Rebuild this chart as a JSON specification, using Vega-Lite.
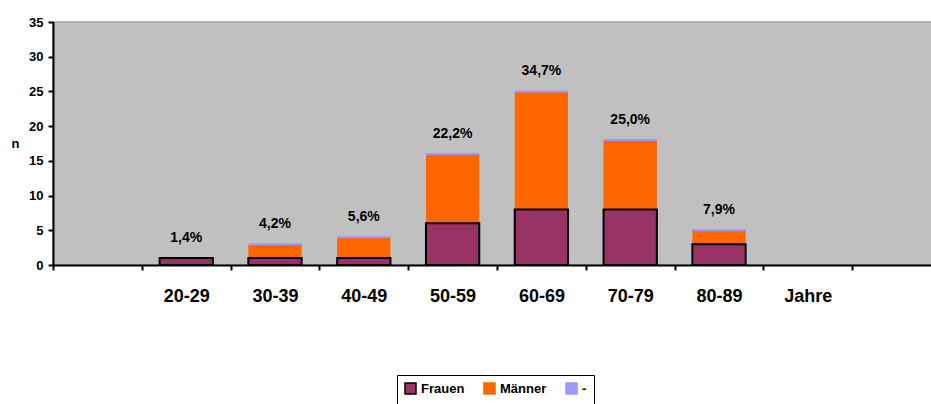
{
  "$schema": "https://vega.github.io/schema/vega-lite/v6.json",
  "width": 888,
  "height": 243,
  "autosize": {"type": "none"},
  "padding": {"left": 53, "top": 22, "right": 0, "bottom": 139},
  "background": "white",
  "config": {
    "font": "Liberation Sans",
    "view": {"fill": "#C0C0C0", "stroke": "#A0A0A0", "strokeWidth": 1.5},
    "axis": {
      "grid": false,
      "domainColor": "black",
      "domainWidth": 2,
      "tickColor": "black",
      "tickWidth": 2,
      "tickSize": 5,
      "labelFont": "Liberation Sans",
      "labelFontWeight": "bold",
      "labelColor": "black",
      "titleFont": "Liberation Sans",
      "titleFontWeight": "bold",
      "titleColor": "black",
      "zindex": 1
    },
    "legend": {
      "labelFont": "Liberation Sans",
      "labelFontWeight": "bold",
      "labelFontSize": 13,
      "labelColor": "black",
      "symbolType": "square",
      "symbolSize": 121,
      "symbolStrokeWidth": 1.5,
      "strokeColor": "black",
      "padding": 7,
      "columnPadding": 16,
      "labelOffset": 4
    }
  },
  "datasets": {
    "counts": [
      {"age": "30-39", "series": "Männer", "n": 2},
      {"age": "40-49", "series": "Männer", "n": 3},
      {"age": "50-59", "series": "Männer", "n": 10},
      {"age": "60-69", "series": "Männer", "n": 17},
      {"age": "70-79", "series": "Männer", "n": 10},
      {"age": "80-89", "series": "Männer", "n": 2},
      {"age": "20-29", "series": "Frauen", "n": 1},
      {"age": "30-39", "series": "Frauen", "n": 1},
      {"age": "40-49", "series": "Frauen", "n": 1},
      {"age": "50-59", "series": "Frauen", "n": 6},
      {"age": "60-69", "series": "Frauen", "n": 8},
      {"age": "70-79", "series": "Frauen", "n": 8},
      {"age": "80-89", "series": "Frauen", "n": 3},
      {"age": "30-39", "series": "-", "n": 0},
      {"age": "40-49", "series": "-", "n": 0},
      {"age": "50-59", "series": "-", "n": 0},
      {"age": "60-69", "series": "-", "n": 0},
      {"age": "70-79", "series": "-", "n": 0},
      {"age": "80-89", "series": "-", "n": 0}
    ],
    "totals": [
      {"age": "20-29", "n": 1, "pct": "1,4%"},
      {"age": "30-39", "n": 3, "pct": "4,2%"},
      {"age": "40-49", "n": 4, "pct": "5,6%"},
      {"age": "50-59", "n": 16, "pct": "22,2%"},
      {"age": "60-69", "n": 25, "pct": "34,7%"},
      {"age": "70-79", "n": 18, "pct": "25,0%"},
      {"age": "80-89", "n": 5, "pct": "7,9%"}
    ]
  },
  "encoding": {
    "x": {
      "field": "age",
      "type": "nominal",
      "sort": null,
      "scale": {
        "domain": [" ", "20-29", "30-39", "40-49", "50-59", "60-69", "70-79", "80-89", "Jahre", "  "],
        "paddingInner": 0,
        "paddingOuter": 0
      },
      "axis": {
        "title": null,
        "labelAngle": 0,
        "labelFontSize": 18,
        "labelPadding": 26,
        "labelBaseline": "middle",
        "tickBand": "extent"
      }
    },
    "y": {
      "field": "n",
      "type": "quantitative",
      "scale": {"domain": [0, 35], "nice": false},
      "axis": {
        "values": [0, 5, 10, 15, 20, 25, 30, 35],
        "labelOverlap": false,
        "labelFontSize": 13,
        "labelPadding": 5,
        "title": "n",
        "titleAngle": 0,
        "titleFontSize": 13,
        "titleX": -38,
        "titleY": 121,
        "titleAlign": "center",
        "titleBaseline": "middle"
      }
    }
  },
  "layer": [
    {
      "data": {"name": "counts"},
      "transform": [
        {"calculate": "indexof(['Frauen','Männer','-'], datum.series)", "as": "stackorder"}
      ],
      "mark": {"type": "bar", "width": {"band": 0.6}},
      "encoding": {
        "y": {"field": "n", "type": "quantitative", "stack": "zero"},
        "fill": {
          "field": "series",
          "type": "nominal",
          "scale": {"domain": ["Frauen", "Männer", "-"], "range": ["#993366", "#FF6600", "#9999FF"]},
          "legend": {"title": null, "orient": "none", "legendX": 344, "legendY": 353, "direction": "horizontal"}
        },
        "stroke": {
          "field": "series",
          "type": "nominal",
          "scale": {"domain": ["Frauen", "Männer", "-"], "range": ["black", "#FF6600", "#9999FF"]},
          "legend": {"title": null, "orient": "none", "legendX": 344, "legendY": 353, "direction": "horizontal"}
        },
        "strokeWidth": {"condition": {"test": "datum.series === 'Männer'", "value": 0}, "value": 2},
        "order": {"field": "stackorder", "type": "quantitative"}
      }
    },
    {
      "data": {"name": "totals"},
      "mark": {"type": "text", "dy": -20, "fontWeight": "bold", "fontSize": 14, "baseline": "middle", "color": "black"},
      "encoding": {
        "y": {"field": "n", "type": "quantitative", "stack": null},
        "text": {"field": "pct"}
      }
    }
  ]
}
